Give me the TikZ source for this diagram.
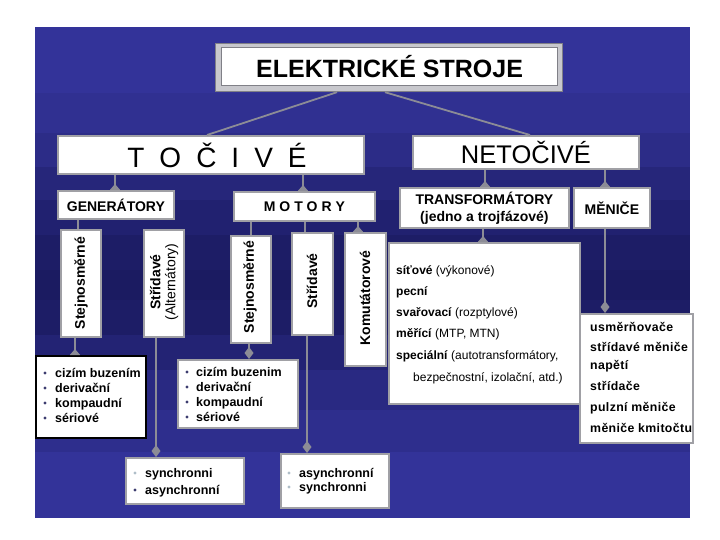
\documentclass[tikz,border=0pt]{standalone}
\usepackage{fontspec}
\setmainfont{Liberation Sans}
\usetikzlibrary{arrows.meta}
\definecolor{boxgray}{RGB}{160,160,165}
\definecolor{conngray}{RGB}{140,140,150}
\definecolor{framegray}{RGB}{128,128,135}
\definecolor{framefill}{RGB}{200,200,205}
\definecolor{bdark}{RGB}{60,60,110}
\definecolor{blight}{RGB}{175,190,200}
\tikzset{
  box/.style={draw=boxgray, line width=1.8pt, fill=white, inner sep=0pt, anchor=north west},
  conn/.style={draw=conngray, line width=2.2pt},
  flare/.style={conn, -{Triangle[reversed,width=10pt,length=6pt,fill=conngray]}},
  dia/.style={conn, -{Diamond[width=9pt,length=12pt,fill=conngray]}},
  hd/.style={font=\fontsize{14}{16}\selectfont\bfseries, inner sep=0pt},
  vt/.style={rotate=90, font=\fontsize{14}{15}\selectfont\bfseries, align=center, inner sep=0pt},
  item/.style={anchor=base west, inner sep=0pt, font=\fontsize{12.5}{14}\selectfont\bfseries},
  titem/.style={anchor=base west, inner sep=0pt, font=\fontsize{12}{14}\selectfont},
}
\begin{document}
\begin{tikzpicture}[x=1pt,y=-1pt]
\useasboundingbox (0,0) rectangle (720,540);
\fill[white] (0,0) rectangle (720,540);
% background bands
\foreach \a/\b/\c in {27/93/{51,51,153},93/133/{48,48,145},133/167/{44,44,135},167/200/{38,38,122},200/235/{33,33,112},235/270/{29,29,102},270/300/{27,27,97},300/335/{29,29,102},335/370/{35,35,116},370/410/{41,41,130},410/452/{46,46,141},452/518/{51,51,153}}{
  \definecolor{bandc}{RGB}{\c}
  \fill[bandc] (35,\a) rectangle (690,\b);
}
% title
\node[anchor=north west, draw=framegray, fill=framefill, line width=1.2pt, minimum width=347pt, minimum height=48pt, inner sep=0pt] (titleo) at (215,43) {};
\node[anchor=north west, draw=framegray, fill=white, line width=1.2pt, minimum width=336pt, minimum height=38pt, inner sep=0pt, font=\fontsize{25}{28}\selectfont\bfseries] (title) at (221,47) {ELEKTRICKÉ\hspace{7pt}STROJE};
% level 1
\node[box, minimum width=306pt, minimum height=38pt] (toc) at (57,135) {};
\node[inner sep=0pt, font=\fontsize{28}{30}\selectfont] (toct) at (217,155) {T\hspace{15pt}O\hspace{15pt}Č\hspace{15pt}I\hspace{15pt}V\hspace{15pt}É};
\node[box, minimum width=226pt, minimum height=33pt, font=\fontsize{25.5}{28}\selectfont] (netoc) at (412,135) {NETOČIVÉ};
% level 2
\node[box, minimum width=116pt, minimum height=28pt, hd] (gen) at (57,190) {GENERÁTORY};
\node[box, minimum width=141pt, minimum height=29pt, hd] (mot) at (233,191) {M O T O R Y};
\node[box, minimum width=169pt, minimum height=40pt, hd, align=center] (transf) at (399,187) {TRANSFORMÁTORY\\[1pt](jedno a trojfázové)};
\node[box, minimum width=76pt, minimum height=40pt, hd] (men) at (573,187) {MĚNIČE};
% level 3 vertical boxes
\node[box, minimum width=40pt, minimum height=107pt] (gstej) at (60,229) {};
\node[vt] (gstejt) at (81,283) {Stejnosměrné};
\node[box, minimum width=40pt, minimum height=107pt] (gstr) at (143,229) {};
\node[vt] (gstrt) at (164,282) {Střídavé\\{\mdseries (Alternátory)}};
\node[box, minimum width=40pt, minimum height=107pt] (mstej) at (230,235) {};
\node[vt] (mstejt) at (250,287) {Stejnosměrné};
\node[box, minimum width=41pt, minimum height=102pt] (mstr) at (291,232) {};
\node[vt] (mstrt) at (312,281) {Střídavé};
\node[box, minimum width=41pt, minimum height=133pt] (komut) at (344,232) {};
\node[vt] (komutt) at (365,298) {Komutátorové};
% lists
\node[box, minimum width=191pt, minimum height=161pt] (tlist) at (388,242) {};
\node[box, minimum width=113pt, minimum height=129pt] (mlist) at (579,313) {};
\node[box, draw=black, line width=2.2pt, minimum width=110pt, minimum height=82pt] (gciz) at (35,355) {};
\node[box, minimum width=120pt, minimum height=68pt] (mciz) at (177,359) {};
\node[box, minimum width=118pt, minimum height=46pt] (gsyn) at (125,457) {};
\node[box, minimum width=108pt, minimum height=54pt] (masy) at (280,453) {};
% connectors
\draw[conn, line width=1.8pt] (titleo.south -| 337,0) -- (toc.north -| 207,0);
\draw[conn, line width=1.8pt] (titleo.south -| 385,0) -- (netoc.north -| 530,0);
\draw[flare] (toc.south -| 115,0) -- (gen.north -| 115,0);
\draw[flare] (toc.south -| 303,0) -- (mot.north -| 303,0);
\draw[flare] (netoc.south -| 485,0) -- (transf.north -| 485,0);
\draw[flare] (netoc.south -| 605,0) -- (men.north -| 605,0);
\draw[conn] (gen.south -| 78,0) -- (gstej.north -| 78,0);
\draw[conn] (mot.south -| 251,0) -- (mstej.north -| 251,0);
\draw[conn] (mot.south -| 305,0) -- (mstr.north -| 305,0);
\draw[flare] (mot.south -| 358,0) -- (komut.north -| 358,0);
\draw[flare] (gstej.south -| 75,0) -- (gciz.north -| 75,0);
\draw[dia] (gstr.south -| 156,0) -- (gsyn.north -| 156,0);
\draw[dia] (mstej.south -| 249,0) -- (mciz.north -| 249,0);
\draw[dia] (mstr.south -| 307,0) -- (masy.north -| 307,0);
\draw[flare] (transf.south -| 483,0) -- (tlist.north -| 483,0);
\draw[dia] (men.south -| 605,0) -- (mlist.north -| 605,0);
% transformer list
\node[titem] (tl1) at (396,274) {\textbf{síťové} (výkonové)};
\node[titem] (tl2) at (396,295) {\textbf{pecní}};
\node[titem] (tl3) at (396,316) {\textbf{svařovací} (rozptylové)};
\node[titem] (tl4) at (396,337) {\textbf{měřící} (MTP, MTN)};
\node[titem] (tl5) at (396,359) {\textbf{speciální} (autotransformátory,};
\node[titem] (tl6) at (413,381) {bezpečnostní, izolační, atd.)};
% menice list
\foreach \t/\yy [count=\i] in {usměrňovače/331, střídavé měniče/351, napětí/369, střídače/390, pulzní měniče/411, měniče kmitočtu/432}{
  \node[item, font=\fontsize{12.3}{14}\selectfont\bfseries\addfontfeatures{LetterSpace=3}] (ml\i) at (590,\yy) {\t};
}
% gen ciz list
\foreach \t [count=\i] in {cizím buzením, derivační, kompaudní, sériové}{
  \node[item] (gc\i) at (55,{377+15*(\i-1)}) {\t};
  \fill[bdark] (45,{373+15*(\i-1)}) circle (1.6pt);
}
% mot ciz list
\foreach \t [count=\i] in {cizím buzenim, derivační, kompaudní, sériové}{
  \node[item] (mc\i) at (196,{376+15*(\i-1)}) {\t};
  \fill[bdark] (187,{372+15*(\i-1)}) circle (1.6pt);
}
% gen sync list
\node[item] (gs1) at (145,477) {synchronni};
\fill[blight] (135,473) circle (1.6pt);
\node[item] (gs2) at (145,494) {asynchronní};
\fill[bdark] (135,490) circle (1.6pt);
% mot async list
\node[item] (ma1) at (299,477) {asynchronní};
\fill[blight] (289,473) circle (1.6pt);
\node[item] (ma2) at (299,491) {synchronni};
\fill[blight] (289,487) circle (1.6pt);
\end{tikzpicture}
\end{document}
